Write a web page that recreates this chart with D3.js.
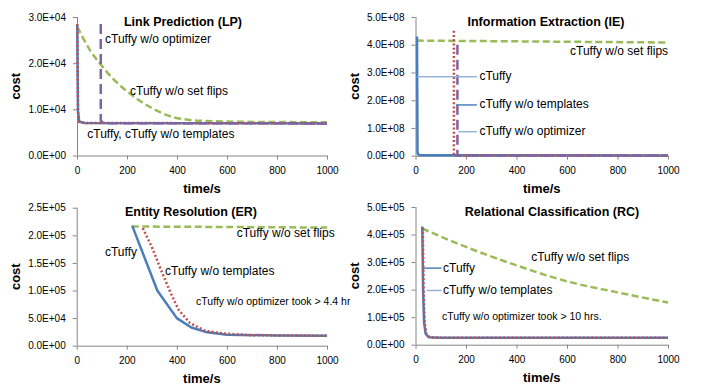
<!DOCTYPE html>
<html>
<head>
<meta charset="utf-8">
<script src="https://cdn.jsdelivr.net/npm/d3@7"></script>
<style>
  html, body { margin: 0; padding: 0; background: #fff; }
  svg { display: block; font-family: "Liberation Sans", Arial, sans-serif; }
</style>
</head>
<body>
<svg id="chart" width="703" height="392"></svg>
<script>
// ---------------- DATA ----------------
const timeTicks = [0, 200, 400, 600, 800, 1000];
const lpTicks = [0, 1e4, 2e4, 3e4];
const ieTicks = [0, 1e8, 2e8, 3e8, 4e8, 5e8];
const erTicks = [0, 5e4, 1e5, 1.5e5, 2e5, 2.5e5];
const rcTicks = [0, 1e5, 2e5, 3e5, 4e5, 5e5];

// Link Prediction [time, cost]
const lpCTuffy      = [[1, 28300], [4, 9500], [9, 7300], [30, 7050], [1000, 6950]];
const lpNoTemplates = [[1, 28500], [4, 9500], [9, 7300], [30, 7050], [1000, 6950]];
const lpNoOptimizer = [[95, 28500], [95, 7600], [105, 7000], [1000, 6950]];
const lpNoSetFlips  = [[1, 27900], [50, 23000], [92, 19900], [150, 16300], [212, 13400], [292, 10500],
                       [385, 8300], [450, 7700], [500, 7500], [600, 7350], [800, 7250], [1000, 7200]];

// Information Extraction
const ieCTuffy      = [[6, 4.3e8], [8, 1.0e7], [14, 1.5e6], [1000, 1.0e6]];
const ieNoTemplates = [[152, 4.5e8], [152, 0.5e6], [1000, 0.5e6]];
const ieNoOptimizer = [[166, 4.0e8], [166, 1.0e6], [1000, 1.0e6]];
const ieNoSetFlips  = [[5, 4.15e8], [1000, 4.08e8]];

// Entity Resolution
const erCTuffy      = [[222, 2.17e5], [322, 1.0e5], [400, 0.5e5], [458, 0.33e5], [515, 0.25e5],
                       [600, 0.2e5], [800, 0.185e5], [1000, 0.18e5]];
const erNoTemplates = [[264, 2.13e5], [300, 1.79e5], [337, 1.37e5], [373, 0.98e5], [407, 0.65e5],
                       [453, 0.41e5], [513, 0.27e5], [587, 0.22e5], [700, 0.19e5], [1000, 0.18e5]];
const erNoSetFlips  = [[220, 2.16e5], [1000, 2.14e5]];

// Relational Classification
const rcCTuffy      = [[27, 4.29e5], [30, 2.0e5], [34, 0.8e5], [40, 0.4e5], [52, 0.27e5], [100, 0.255e5], [1000, 0.255e5]];
const rcNoTemplates = [[29, 4.25e5], [32, 2.0e5], [36, 0.8e5], [43, 0.38e5], [57, 0.26e5], [100, 0.25e5], [1000, 0.25e5]];
const rcNoSetFlips  = [[26, 4.22e5], [200, 3.55e5], [400, 2.88e5], [600, 2.3e5], [800, 1.9e5], [1000, 1.53e5]];

// Annotations (text anchored at [time, cost])
const lpLabels = [
  { text: "cTuffy w/o optimizer", t: 112, v: 25000 },
  { text: "cTuffy w/o set flips", t: 212, v: 13800 },
  { text: "cTuffy, cTuffy w/o templates", t: 41, v: 4550 }
];
const ieLabels = [
  { text: "cTuffy w/o set flips", t: 612, v: 3.75e8 },
  { text: "cTuffy", t: 253, v: 2.85e8 },
  { text: "cTuffy w/o templates", t: 253, v: 1.83e8 },
  { text: "cTuffy w/o optimizer", t: 253, v: 0.865e8 }
];
const ieLeaders = [
  { t0: 6, t1: 243, v: 2.85e8, tone: "light" },
  { t0: 160, t1: 243, v: 1.83e8, tone: "dark" },
  { t0: 169, t1: 243, v: 0.865e8, tone: "light" }
];
const erLabels = [
  { text: "cTuffy w/o set flips", t: 639, v: 2.03e5 },
  { text: "cTuffy", t: 113, v: 1.68e5 },
  { text: "cTuffy w/o templates", t: 353, v: 1.34e5 },
  { text: "cTuffy w/o optimizer took > 4.4 hrs.", t: 477, v: 0.78e5, small: true }
];
const rcLabels = [
  { text: "cTuffy w/o set flips", t: 458, v: 3.16e5 },
  { text: "cTuffy", t: 109, v: 2.76e5 },
  { text: "cTuffy w/o templates", t: 109, v: 1.95e5 },
  { text: "cTuffy w/o optimizer took > 10 hrs.", t: 105, v: 0.98e5, small: true }
];
const rcLeaders = [
  { t0: 30, t1: 103, v: 2.78e5, tone: "dark" },
  { t0: 44, t1: 103, v: 1.97e5, tone: "light" }
];

// ---------------- STYLE / LAYOUT ----------------
const styles = {
  noSetFlips:  { color: "#9BBB59", dash: "7,3.5" },
  cTuffy:      { color: "#4A7EBB", dash: null },
  noTemplates: { color: "#C0504D", dash: "2,2.2" },
  noOptimizer: { color: "#8064A2", dash: "10,5" }
};
const leaderColors = { light: "#95B3D7", dark: "#4F81BD" };
const axisColor = "#868686";

const panels = [
  { title: "Link Prediction (LP)", x0: 77, x1: 327, yb: 155.5, yt: 17, ticks: lpTicks,
    tx: 183, ty: 23, clip: [0, 0, 350, 196],
    series: [["noSetFlips", lpNoSetFlips, true], ["cTuffy", lpCTuffy], ["noTemplates", lpNoTemplates], ["noOptimizer", lpNoOptimizer]],
    labels: lpLabels, leaders: [] },
  { title: "Information Extraction (IE)", x0: 415.5, x1: 668, yb: 155.7, yt: 17, ticks: ieTicks,
    tx: 546, ty: 23, clip: [350, 0, 353, 196],
    series: [["noSetFlips", ieNoSetFlips], ["cTuffy", ieCTuffy], ["noTemplates", ieNoTemplates], ["noOptimizer", ieNoOptimizer]],
    labels: ieLabels, leaders: ieLeaders },
  { title: "Entity Resolution (ER)", x0: 76.7, x1: 327, yb: 345.7, yt: 207.7, ticks: erTicks,
    tx: 191, ty: 212.5, clip: [0, 196, 350, 196],
    series: [["noSetFlips", erNoSetFlips], ["cTuffy", erCTuffy], ["noTemplates", erNoTemplates]],
    labels: erLabels, leaders: [] },
  { title: "Relational Classification (RC)", x0: 415.5, x1: 668, yb: 344.7, yt: 207, ticks: rcTicks,
    tx: 552, ty: 213, clip: [350, 196, 353, 196],
    series: [["noSetFlips", rcNoSetFlips, true], ["cTuffy", rcCTuffy], ["noTemplates", rcNoTemplates]],
    labels: rcLabels, leaders: rcLeaders }
];

function sciFmt(v) {
  if (v === 0) return "0.0E+00";
  const e = Math.floor(Math.log10(v) + 1e-9);
  const m = v / Math.pow(10, e);
  return m.toFixed(1) + "E+" + String(e).padStart(2, "0");
}

// ---------------- DRAW ----------------
const svg = d3.select("#chart");
const defs = svg.append("defs");

panels.forEach((p, i) => {
  const clipId = "clip" + i;
  defs.append("clipPath").attr("id", clipId).append("rect")
    .attr("x", p.clip[0]).attr("y", p.clip[1]).attr("width", p.clip[2]).attr("height", p.clip[3]);

  const g = svg.append("g").attr("clip-path", `url(#${clipId})`);
  const x = d3.scaleLinear().domain([0, 1000]).range([p.x0, p.x1]);
  const y = d3.scaleLinear().domain([0, p.ticks[p.ticks.length - 1]]).range([p.yb, p.yt]);

  // axes
  const yAxis = d3.axisLeft(y).tickValues(p.ticks).tickFormat(sciFmt).tickSize(4).tickSizeOuter(0).tickPadding(7);
  const xAxis = d3.axisBottom(x).tickValues(timeTicks).tickFormat(d3.format("d")).tickSize(4).tickSizeOuter(0).tickPadding(7);

  const ga = g.append("g").attr("transform", `translate(${p.x0},0)`).call(yAxis);
  const gb = g.append("g").attr("transform", `translate(0,${p.yb})`).call(xAxis);
  [ga, gb].forEach(a => {
    a.selectAll("path, line").attr("stroke", axisColor).attr("stroke-width", 1);
    a.selectAll("text").attr("fill", "#000").style("font-size", "10px").style("font-family", '"Liberation Sans", Arial, sans-serif');
  });
  ga.select(".domain").attr("d", `M0.5,${p.yt}V${p.yb}`);

  // axis titles
  g.append("text").attr("x", (p.x0 + p.x1) / 2).attr("y", p.yb + 34)
    .attr("text-anchor", "middle").attr("dominant-baseline", "middle")
    .style("font-size", "13px").style("font-weight", "bold").text("time/s");
  g.append("text").attr("transform", `translate(${p.x0 - 60},${(p.yb + p.yt) / 2}) rotate(-90)`)
    .attr("text-anchor", "middle").attr("dominant-baseline", "middle")
    .style("font-size", "13px").style("font-weight", "bold").text("cost");

  // title
  g.append("text").attr("x", p.tx).attr("y", p.ty)
    .attr("text-anchor", "middle").attr("dominant-baseline", "middle")
    .style("font-size", "12.5px").style("font-weight", "bold").text(p.title);

  // series
  p.series.forEach(([key, data, smooth]) => {
    const st = styles[key];
    const line = d3.line().x(d => x(d[0])).y(d => y(d[1]))
      .curve(smooth ? d3.curveMonotoneX : d3.curveLinear);
    g.append("path").datum(data).attr("d", line)
      .attr("fill", "none").attr("stroke", st.color).attr("stroke-width", 2.5)
      .attr("stroke-dasharray", st.dash).attr("stroke-linejoin", "round");
  });

  // leaders
  p.leaders.forEach(l => {
    g.append("line").attr("x1", x(l.t0)).attr("x2", x(l.t1)).attr("y1", y(l.v)).attr("y2", y(l.v))
      .attr("stroke", leaderColors[l.tone]).attr("stroke-width", 1.5);
  });

  // labels
  p.labels.forEach(l => {
    g.append("text").attr("x", x(l.t)).attr("y", y(l.v))
      .attr("dominant-baseline", "middle")
      .style("font-size", l.small ? "10.5px" : "12px").attr("fill", "#000").text(l.text);
  });
});
</script>
</body>
</html>
